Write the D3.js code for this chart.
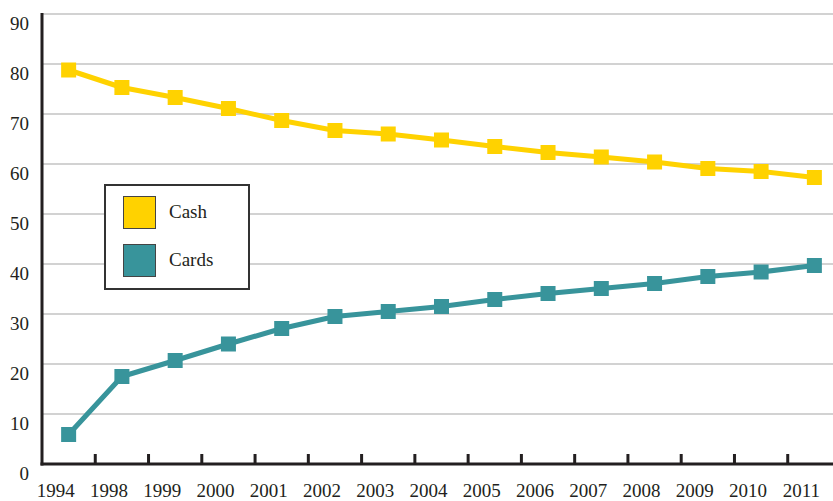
<!DOCTYPE html>
<html>
<head>
<meta charset="utf-8">
<script src="https://cdn.jsdelivr.net/npm/d3@7"></script>
<style>
  html, body { margin: 0; padding: 0; background: #fff; }
  svg { display: block; }
</style>
</head>
<body>
<svg id="chart"></svg>
<script>
// years on the x axis (note the jump from 1994 to 1998)
const years = ['1994', '1998', '1999', '2000', '2001', '2002', '2003', '2004',
  '2005', '2006', '2007', '2008', '2009', '2010', '2011']
// share of payments
const cashValues = [78.8, 75.3, 73.3, 71.1, 68.7, 66.7, 66.0, 64.8, 63.5, 62.3, 61.4, 60.4, 59.1, 58.5, 57.3]
const cardValues = [5.9, 17.5, 20.7, 24.0, 27.1, 29.5, 30.5, 31.5, 32.9, 34.1, 35.1, 36.1, 37.5, 38.4, 39.7]
const yTicks = [0, 10, 20, 30, 40, 50, 60, 70, 80, 90]
const seriesNames = ['Cash', 'Cards']
const seriesColors = ['#ffd200', '#38949b']

const width = 833
const height = 501
const font = '"Liberation Serif", "DejaVu Serif", serif'

const svg = d3.select('#chart')
  .attr('width', width)
  .attr('height', height)

const x = d3.scaleBand().domain(years).range([42, 841]).padding(0)
const y = d3.scaleLinear().domain([0, 90]).range([464, 14])

// gridlines
svg.append('g')
  .selectAll('line')
  .data(yTicks.filter(d => d > 0))
  .enter().append('line')
  .attr('x1', 42)
  .attr('x2', width)
  .attr('y1', d => y(d))
  .attr('y2', d => y(d))
  .style('stroke', '#d2d2d2')
  .style('stroke-width', 2)

// y axis labels, sitting just under each gridline
const yAxis = d3.axisLeft(y).tickValues(yTicks).tickSize(0).tickPadding(13)
svg.append('g')
  .attr('transform', 'translate(42,0)')
  .call(yAxis)
  .call(g => g.select('.domain').remove())
  .call(g => g.selectAll('text')
    .attr('dy', '15px')
    .style('font-family', font)
    .style('font-size', '19px')
    .style('fill', '#231f20'))

// x axis labels
const xAxis = d3.axisBottom(x).tickSize(0).tickPadding(0)
svg.append('g')
  .attr('transform', 'translate(-13,497)')
  .call(xAxis)
  .call(g => g.select('.domain').remove())
  .call(g => g.selectAll('text')
    .attr('y', 0)
    .attr('dy', 0)
    .style('font-family', font)
    .style('font-size', '19px')
    .style('fill', '#231f20'))

// tick marks between the years
svg.append('g')
  .selectAll('line')
  .data(years.slice(1))
  .enter().append('line')
  .attr('x1', d => x(d))
  .attr('x2', d => x(d))
  .attr('y1', y(0))
  .attr('y2', y(0) - 10)
  .style('stroke', '#231f20')
  .style('stroke-width', 3)

// axis lines
svg.append('line')
  .attr('x1', 42).attr('x2', 42)
  .attr('y1', 13).attr('y2', y(0) + 1.5)
  .style('stroke', '#231f20')
  .style('stroke-width', 3)
svg.append('line')
  .attr('x1', 40.5).attr('x2', width)
  .attr('y1', y(0)).attr('y2', y(0))
  .style('stroke', '#231f20')
  .style('stroke-width', 3)

// series
const line = d3.line()
  .x((d, i) => x(years[i]) + x.bandwidth() / 2)
  .y(d => y(d))

const markerSize = 15
;[cashValues, cardValues].forEach((values, s) => {
  const g = svg.append('g')
  g.append('path')
    .datum(values)
    .attr('d', line)
    .style('fill', 'none')
    .style('stroke', seriesColors[s])
    .style('stroke-width', 5)
    .style('stroke-linejoin', 'round')
  g.selectAll('rect')
    .data(values)
    .enter().append('rect')
    .attr('x', (d, i) => x(years[i]) + x.bandwidth() / 2 - markerSize / 2)
    .attr('y', d => y(d) - markerSize / 2)
    .attr('width', markerSize)
    .attr('height', markerSize)
    .style('fill', seriesColors[s])
})

// legend
const legend = svg.append('g').attr('transform', 'translate(105,185)')
legend.append('rect')
  .attr('width', 144)
  .attr('height', 104)
  .style('fill', '#fff')
  .style('stroke', '#333')
  .style('stroke-width', 2)
seriesNames.forEach((name, i) => {
  legend.append('rect')
    .attr('x', 18.5)
    .attr('y', 11.5 + i * 48)
    .attr('width', 32)
    .attr('height', 32)
    .style('fill', seriesColors[i])
    .style('stroke', '#444')
    .style('stroke-width', 1)
  legend.append('text')
    .attr('x', 64)
    .attr('y', 33 + i * 48)
    .style('font-family', font)
    .style('font-size', '19px')
    .style('fill', '#231f20')
    .text(name)
})
</script>
</body>
</html>
